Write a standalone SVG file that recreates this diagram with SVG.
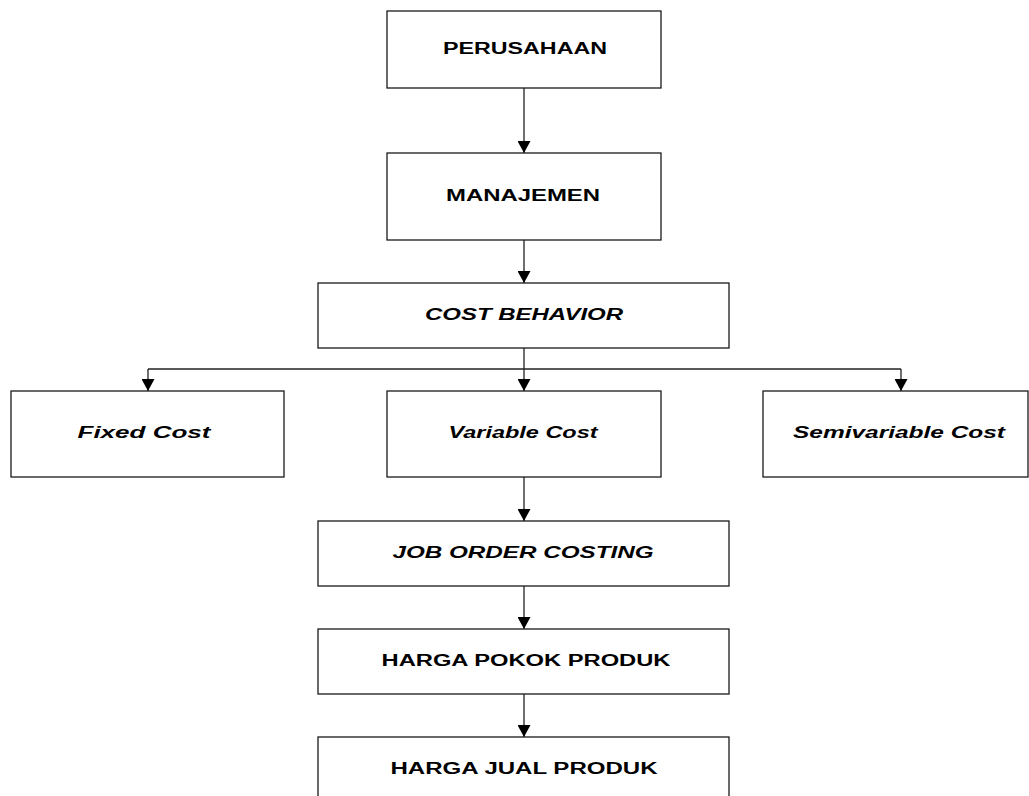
<svg xmlns="http://www.w3.org/2000/svg" width="1029" height="796" viewBox="0 0 1029 796">
<style>
.box{fill:#fff;stroke:#1a1a1a;stroke-width:1.3}
.t{font-family:"Liberation Sans",Arial,sans-serif;font-weight:bold;font-size:16px;fill:#000;text-anchor:middle}
.i{font-style:italic}
.c{stroke:#222;stroke-width:1.3;fill:none}
</style>
<defs>
<marker id="ah" markerUnits="userSpaceOnUse" markerWidth="13" markerHeight="13" refX="12" refY="6.5" orient="auto">
<path d="M0,0 L12,6.5 L0,13 z" fill="#000"/>
</marker>
</defs>
<rect width="1029" height="796" fill="#fff"/>
<g id="connectors">
<line class="c" x1="524" y1="88" x2="524" y2="153" marker-end="url(#ah)"/>
<line class="c" x1="524" y1="240" x2="524" y2="283" marker-end="url(#ah)"/>
<line class="c" x1="524" y1="348" x2="524" y2="391" marker-end="url(#ah)"/>
<line class="c" x1="148" y1="369" x2="901" y2="369"/>
<line class="c" x1="148" y1="369" x2="148" y2="391" marker-end="url(#ah)"/>
<line class="c" x1="901" y1="369" x2="901" y2="391" marker-end="url(#ah)"/>
<line class="c" x1="524" y1="477" x2="524" y2="521" marker-end="url(#ah)"/>
<line class="c" x1="524" y1="586" x2="524" y2="629" marker-end="url(#ah)"/>
<line class="c" x1="524" y1="694" x2="524" y2="737" marker-end="url(#ah)"/>
</g>
<g id="perusahaan"><rect class="box" x="387" y="11" width="274" height="77"/><text class="t" x="525" y="54" textLength="164" lengthAdjust="spacingAndGlyphs">PERUSAHAAN</text></g>
<g id="manajemen"><rect class="box" x="387" y="153" width="274" height="87"/><text class="t" x="523" y="201" textLength="154" lengthAdjust="spacingAndGlyphs">MANAJEMEN</text></g>
<g id="cost-behavior"><rect class="box" x="318" y="283" width="411" height="65"/><text class="t i" x="524" y="320" textLength="198" lengthAdjust="spacingAndGlyphs">COST BEHAVIOR</text></g>
<g id="fixed-cost"><rect class="box" x="11" y="391" width="273" height="86"/><text class="t i" x="144" y="438" textLength="133" lengthAdjust="spacingAndGlyphs">Fixed Cost</text></g>
<g id="variable-cost"><rect class="box" x="387" y="391" width="274" height="86"/><text class="t i" x="523" y="438" textLength="149" lengthAdjust="spacingAndGlyphs">Variable Cost</text></g>
<g id="semivariable-cost"><rect class="box" x="763" y="391" width="265" height="86"/><text class="t i" x="899" y="438" textLength="212" lengthAdjust="spacingAndGlyphs">Semivariable Cost</text></g>
<g id="job-order-costing"><rect class="box" x="318" y="521" width="411" height="65"/><text class="t i" x="523" y="558" textLength="261" lengthAdjust="spacingAndGlyphs">JOB ORDER COSTING</text></g>
<g id="harga-pokok-produk"><rect class="box" x="318" y="629" width="411" height="65"/><text class="t" x="526" y="666" textLength="289" lengthAdjust="spacingAndGlyphs">HARGA POKOK PRODUK</text></g>
<g id="harga-jual-produk"><rect class="box" x="318" y="737" width="411" height="80"/><text class="t" x="524" y="774" textLength="267" lengthAdjust="spacingAndGlyphs">HARGA JUAL PRODUK</text></g>
</svg>
